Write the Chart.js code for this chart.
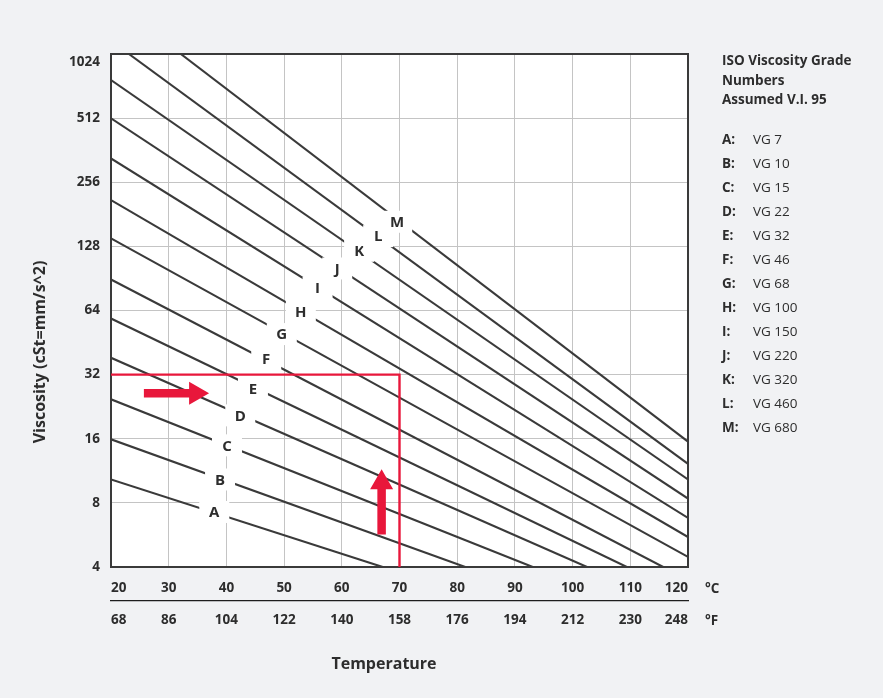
<!DOCTYPE html>
<html><head><meta charset="utf-8">
<script src="https://cdn.jsdelivr.net/npm/chart.js@4.4.1/dist/chart.umd.min.js"></script>
<style>
html,body{margin:0;padding:0;background:#f1f2f4;}
#wrap{width:883px;height:698px;}
</style></head><body>
<div id="wrap"><canvas id="c" width="883" height="698"></canvas></div>
<script>
// ---- data ----
const gradeLetters = ['A','B','C','D','E','F','G','H','I','J','K','L','M'];
const gradeNames = ['VG 7','VG 10','VG 15','VG 22','VG 32','VG 46','VG 68','VG 100','VG 150','VG 220','VG 320','VG 460','VG 680'];
const startTemp = [20,20,20,20,20,20,20,20,20,20,20,23.1,32.1];
const startVisc = [10.3,15.9,24.5,38.4,58.7,89.5,139.5,211,331,511,773,1024,1024];
const endTemp = [67.1,81.4,93.1,102.5,109.4,115.7,120,120,120,120,120,120,120];
const endVisc = [4,4,4,4,4,4,4.46,5.53,6.80,8.38,10.3,12.2,15.5];
const labelTemp = [37.9,38.9,40.1,42.4,44.6,46.9,49.6,52.9,55.8,59.2,63.0,66.3,69.6];
const labelVisc = [7.25,10.3,14.9,20.6,27.5,37.8,49.6,63.1,81.7,100.8,122,143,167];
const celsiusTicks = [20,30,40,50,60,70,80,90,100,110,120];
const fahrenheitTicks = [68,86,104,122,140,158,176,194,212,230,248];
const viscTicks = [4,8,16,32,64,128,256,512,1024];
const guideTemp = [20,70,70];
const guideVisc = [32,32,4];
const arrowFromTemp = [25.7,66.9];
const arrowFromVisc = [26.2,5.68];
const arrowToTemp = [37.0,66.9];
const arrowToVisc = [26.2,11.5];
const legendTitle = ['ISO Viscosity Grade','Numbers','Assumed V.I. 95'];
const xTitle = 'Temperature';
const yTitle = 'Viscosity (cSt=mm/s^2)';
const unitLabels = ['°C','°F'];

const FONT = '"Open Sans", "Noto Sans", "DejaVu Sans", sans-serif';
const TXT = '#2d2d2d';
const LINE = '#3a3a3a';
const RED = '#e8173b';
const GRID = '#c4c4c4';

const datasets = [];
datasets.push({
  label: 'guide', order: -1,
  data: guideTemp.map((t,i)=>({x:t,y:guideVisc[i]})),
  borderColor: RED, borderWidth: 2.4, pointRadius: 0, tension: 0, fill: false
});
gradeLetters.forEach((g,i)=>{
  datasets.push({
    label: g + ': ' + gradeNames[i], order: 0,
    data: [{x:startTemp[i], y:startVisc[i]}, {x:endTemp[i], y:endVisc[i]}],
    borderColor: LINE, borderWidth: 2.1, pointRadius: 0, tension: 0, fill: false
  });
});

function drawArrow(ctx, x1, y1, x2, y2) {
  const dx = x2-x1, dy = y2-y1, len = Math.hypot(dx,dy);
  const ux = dx/len, uy = dy/len, nx = -uy, ny = ux;
  const shaftW = 8.5, headW = 23, headL = 20;
  const bx = x2 - ux*headL, by = y2 - uy*headL;
  ctx.beginPath();
  ctx.moveTo(x1 + nx*shaftW/2, y1 + ny*shaftW/2);
  ctx.lineTo(bx + nx*shaftW/2, by + ny*shaftW/2);
  ctx.lineTo(bx + nx*headW/2, by + ny*headW/2);
  ctx.lineTo(x2, y2);
  ctx.lineTo(bx - nx*headW/2, by - ny*headW/2);
  ctx.lineTo(bx - nx*shaftW/2, by - ny*shaftW/2);
  ctx.lineTo(x1 - nx*shaftW/2, y1 - ny*shaftW/2);
  ctx.closePath();
  ctx.fillStyle = RED;
  ctx.fill();
}

const decor = {
  id: 'decor',
  beforeDraw(chart) {
    const {ctx, chartArea: a} = chart;
    ctx.save();
    ctx.fillStyle = '#f1f2f4';
    ctx.fillRect(0,0,chart.width,chart.height);
    ctx.fillStyle = '#ffffff';
    ctx.fillRect(a.left, a.top, a.right-a.left, a.bottom-a.top);
    ctx.restore();
  },
  beforeDatasetsDraw(chart) {
    const {ctx, chartArea: a} = chart;
    ctx.save();
    ctx.strokeStyle = '#3a3a3a';
    ctx.lineWidth = 2;
    ctx.strokeRect(a.left, a.top, a.right-a.left, a.bottom-a.top);
    ctx.restore();
  },
  afterDatasetsDraw(chart) {
    const {ctx, chartArea: a, scales} = chart;
    const xs = scales.x, ys = scales.y;
    ctx.save();
    // grade labels with white boxes
    ctx.font = 'bold 15px ' + FONT;
    ctx.textAlign = 'center';
    ctx.textBaseline = 'middle';
    gradeLetters.forEach((g,i)=>{
      const px = xs.getPixelForValue(labelTemp[i]);
      const py = ys.getPixelForValue(labelVisc[i]);
      ctx.fillStyle = '#ffffff';
      ctx.fillRect(px-15, py-11, 30, 22);
      ctx.fillStyle = TXT;
      ctx.fillText(g, px, py+1);
    });
    // arrows
    arrowFromTemp.forEach((t,i)=>{
      drawArrow(ctx, xs.getPixelForValue(t), ys.getPixelForValue(arrowFromVisc[i]),
        xs.getPixelForValue(arrowToTemp[i]), ys.getPixelForValue(arrowToVisc[i]));
    });
    // legend block
    const lx = a.right + 34;
    ctx.textAlign = 'left';
    ctx.textBaseline = 'middle';
    ctx.fillStyle = TXT;
    ctx.font = 'bold 13.5px ' + FONT;
    legendTitle.forEach((t,i)=>{ ctx.fillText(t, lx, 61 + i*19.7); });
    gradeLetters.forEach((g,i)=>{
      const y = 140 + i*24;
      ctx.font = 'bold 13.5px ' + FONT;
      ctx.fillText(g + ':', lx, y);
      ctx.font = '13.5px ' + FONT;
      ctx.fillText(gradeNames[i], lx + 31, y);
    });
    // unit labels
    ctx.font = 'bold 13.5px ' + FONT;
    ctx.fillText(unitLabels[0], a.right + 17, 589);
    ctx.fillText(unitLabels[1], a.right + 17, 621);
    // axis titles
    ctx.font = 'bold 16px ' + FONT;
    ctx.textAlign = 'center';
    ctx.fillText(xTitle, 384, 664);
    ctx.translate(40, 352);
    ctx.rotate(-Math.PI/2);
    ctx.fillText(yTitle, 0, 0);
    ctx.restore();
  }
};

const tickFont = {family: FONT, size: 13.5, weight: 'bold', lineHeight: 1.2};

new Chart(document.getElementById('c'), {
  type: 'line',
  data: { datasets },
  options: {
    responsive: false,
    devicePixelRatio: 1,
    animation: false,
    events: [],
    layout: { padding: {left: 0, top: 54, right: 195, bottom: 0} },
    plugins: { legend: {display: false}, tooltip: {enabled: false}, title: {display: false} },
    scales: {
      x: {
        type: 'linear', position: 'bottom', min: 20, max: 120, weight: 0,
        afterBuildTicks: s => { s.ticks = celsiusTicks.map(v => ({value: v})); },
        afterFit: s => { s.height = 34; },
        grid: {color: GRID, lineWidth: 1, drawTicks: false},
        border: {display: false},
        ticks: {align: 'inner', padding: 13, color: TXT, font: tickFont, autoSkip: false, maxRotation: 0,
          callback: v => String(v)}
      },
      x2: {
        type: 'linear', position: 'bottom', min: 20, max: 120, weight: 1,
        afterBuildTicks: s => { s.ticks = celsiusTicks.map(v => ({value: v})); },
        afterFit: s => { s.height = 97; },
        grid: {display: false, drawTicks: false},
        border: {display: true, color: '#1e1e1e', width: 1.3},
        ticks: {align: 'inner', padding: 11, color: TXT, font: tickFont, autoSkip: false, maxRotation: 0,
          callback: (v, i) => String(fahrenheitTicks[i])}
      },
      y: {
        type: 'logarithmic', position: 'left', min: 4, max: 1024,
        afterBuildTicks: s => { s.ticks = viscTicks.map(v => ({value: v})); },
        afterFit: s => { s.width = 111; },
        grid: {color: GRID, lineWidth: 1, drawTicks: false},
        border: {display: false},
        ticks: {padding: 11, color: TXT, font: tickFont, autoSkip: false,
          callback: v => v === viscTicks[viscTicks.length-1] ? ['', String(v)] : String(v)}
      }
    }
  },
  plugins: [decor]
});
</script>
</body></html>
